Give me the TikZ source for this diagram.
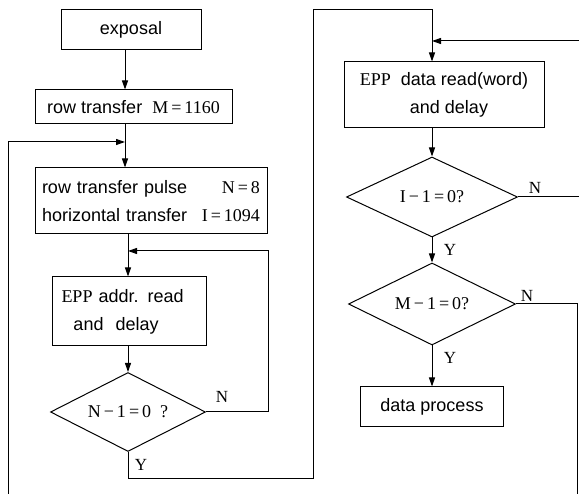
\documentclass[tikz,border=0pt]{standalone}
\usepackage{fontspec}
\setmainfont{Liberation Sans}
\newfontfamily\numfont{Liberation Serif}
\usetikzlibrary{shapes.geometric,arrows.meta}

\begin{document}
\begin{tikzpicture}[x=1pt, y=-1pt, line width=1pt,
  every node/.style={font=\fontsize{18}{28}\selectfont},
  box/.style={draw, inner sep=0pt},
  cond/.style={draw, diamond, aspect=2, inner sep=0pt, font=\numfont\fontsize{18}{22}\selectfont},
  flow/.style={-{Triangle[length=9pt,width=6pt]}},
  yn/.style={font=\numfont\fontsize{17}{20}\selectfont}]
\useasboundingbox (0,0) rectangle (579,494);

% left column: exposal and the address loop
\node[box, minimum width=140, minimum height=40] (exposal) at (131,30) {exposal};
\node[box, minimum width=197, minimum height=34] (rowtr) at (133.5,107) {row transfer\ \ {\numfont M\,=\,1160}};
\node[box, minimum width=232, minimum height=66, text width=218, align=left] (pulse) at (151,201)
  {row transfer pulse\hfill{\numfont N\,=\,8}\\horizontal transfer\hfill{\numfont I\,=\,1094}};
\node[box, minimum width=154, minimum height=69, text width=135, align=left] (addr) at (129,311.5)
  {{\numfont EPP} addr. read\\\ \ and\ \ delay};
\node[cond, minimum width=155, minimum height=79] (nzero) at (128,412) {N\,−\,1\,=\,0\ \ ?};

% right column: data loop
\node[box, minimum width=200, minimum height=66, align=center] (dread) at (444,95)
  {{\numfont EPP}\ \ data read(word)\\\ \ and delay};
\node[cond, minimum width=171, minimum height=80] (izero) at (432,197) {I\,−\,1\,=\,0?};
\node[cond, minimum width=167, minimum height=82] (mzero) at (432,304) {M\,−\,1\,=\,0?};
\node[box, minimum width=143, minimum height=40] (proc) at (432,407) {data process};

% bend points
\coordinate (j1) at (125,142);
\coordinate (j2) at (128,251);
\coordinate (j3) at (432,41);
\coordinate (lbot) at (8,494);
\coordinate (nback) at (268,251);
\coordinate (y1) at (128,479);
\coordinate (y2) at (313,479);
\coordinate (y3) at (313,10);
\coordinate (y4) at (432,10);
\coordinate (rin) at (579,41);
\coordinate (rbot) at (577,494);

\draw[flow] (exposal.south -| j1) -- (rowtr.north -| j1);
\draw[flow] (rowtr.south -| j1) -- (pulse.north -| j1);
\draw[flow] (lbot) -- (lbot |- j1) -- (j1);
\draw[flow] (pulse.south -| j2) -- (addr.north -| j2);
\draw[flow] (addr.south -| j2) -- (nzero.north);
\draw[flow] (nzero.east) -- (nback |- nzero.east) -- (nback) -- (j2);
\draw[flow] (nzero.south) -- (y1) -- (y2) -- (y3) -- (y4) -- (dread.north -| y4);
\draw[flow] (rin) -- (j3);
\draw[flow] (dread.south -| j3) -- (izero.north);
\draw (izero.east) -- (izero.east -| rin);
\draw[flow] (izero.south) -- (mzero.north);
\draw (mzero.east) -- (rbot |- mzero.east) -- (rbot);
\draw[flow] (mzero.south) -- (proc.north);

\foreach \x/\y/\t in {222/397/N, 141/465/Y, 535/188/N, 450/250/Y, 527/296/N, 450/358/Y}
  \node[yn] (lbl\x) at (\x,\y) {\t};

\end{tikzpicture}
\end{document}
